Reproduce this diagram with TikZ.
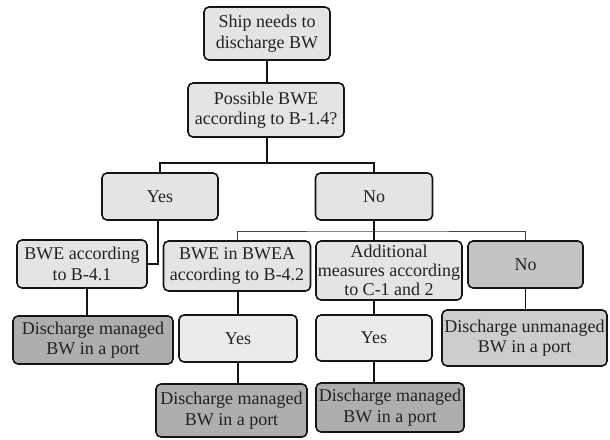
\documentclass[tikz,border=0pt]{standalone}
\usepackage{fontspec}
\setmainfont{Liberation Serif}
\definecolor{fillA}{HTML}{E4E4E4}
\definecolor{fillY}{HTML}{EBEBEB}
\definecolor{fillN}{HTML}{C4C4C4}
\definecolor{fillD}{HTML}{AEAEAE}
\definecolor{fillU}{HTML}{CDCDCD}
\definecolor{edge}{HTML}{151515}
\definecolor{txt}{HTML}{222222}
\tikzset{
  box/.style={draw=edge, line width=1.6pt, rounded corners=5pt, align=center,
    inner sep=1pt, text=txt, font=\fontsize{18}{20.6}\selectfont},
  conn/.style={draw=edge, line width=1.1pt},
  thinconn/.style={draw=edge!80, line width=0.9pt}
}
\begin{document}
\begin{tikzpicture}[x=1pt,y=1pt]
\useasboundingbox[fill=white] (0,0) rectangle (610,-439);
% level 0-1
\node[box, fill=fillA, minimum width=126pt, minimum height=53pt] (b1) at (267,-33.5) {Ship needs to\\discharge BW};
\node[box, fill=fillA, minimum width=156pt, minimum height=54pt] (b2) at (266,-110) {Possible BWE\\according to B-1.4?};
% level 2
\node[box, fill=fillA, minimum width=116pt, minimum height=47pt] (yes1) at (160,-196.5) {Yes};
\node[box, fill=fillA, minimum width=117pt, minimum height=47pt] (no1) at (374,-196.5) {No};
% level 3
\node[box, fill=fillA, minimum width=130pt, minimum height=48pt] (bwe41) at (82,-264) {BWE according\\to B-4.1};
\node[box, fill=fillA, minimum width=147pt, minimum height=50pt] (bwea) at (237,-266) {BWE in BWEA\\according to B-4.2};
\node[box, fill=fillA, minimum width=146pt, minimum height=59pt, font=\fontsize{18}{19}\selectfont] (addm) at (389,-270.5) {Additional\\measures according\\to C-1 and 2};
\node[box, fill=fillN, minimum width=115pt, minimum height=47pt] (no2) at (525.5,-264.5) {No};
% level 4
\node[box, fill=fillD, minimum width=160pt, minimum height=48pt] (dm1) at (93,-340) {Discharge managed\\BW in a port};
\node[box, fill=fillY, minimum width=118pt, minimum height=47pt] (yes2) at (238,-338.5) {Yes};
\node[box, fill=fillY, minimum width=116pt, minimum height=46pt] (yes3) at (374,-338) {Yes};
\node[box, fill=fillU, minimum width=165pt, minimum height=56pt] (dunm) at (524.5,-338) {Discharge unmanaged\\BW in a port};
% level 5
\node[box, fill=fillD, minimum width=151pt, minimum height=53pt] (dm2) at (231.5,-410.5) {Discharge managed\\BW in a port};
\node[box, fill=fillD, minimum width=148pt, minimum height=49pt] (dm3) at (390,-407.5) {Discharge managed\\BW in a port};
% junctions
\coordinate (j1) at (267,-163);
\coordinate (j2) at (374,-231);
% connectors
\draw[conn] (b1.south) -- (b1.south |- b2.north);
\draw[conn] (b2.south -| j1) -- (j1);
\draw[conn] (yes1.north) |- (j1) -| (no1.north);
\draw[conn] ([xshift=-2pt]yes1.south) |- (bwe41.east);
\draw[conn] (no1.south) -- (no1.south |- addm.north);
\draw[thinconn] (bwea.north) |- (j2) -| (no2.north);
\draw[conn] ([xshift=5pt]bwe41.south) -- ([xshift=5pt]bwe41.south |- dm1.north);
\draw[conn] (yes2.north |- bwea.south) -- (yes2.north);
\draw[conn] (yes2.south) -- (yes2.south |- dm2.north);
\draw[conn] (yes3.north |- addm.south) -- (yes3.north);
\draw[conn] (yes3.south) -- (yes3.south |- dm3.north);
\draw[conn] (no2.south) -- (no2.south |- dunm.north);
\end{tikzpicture}
\end{document}
